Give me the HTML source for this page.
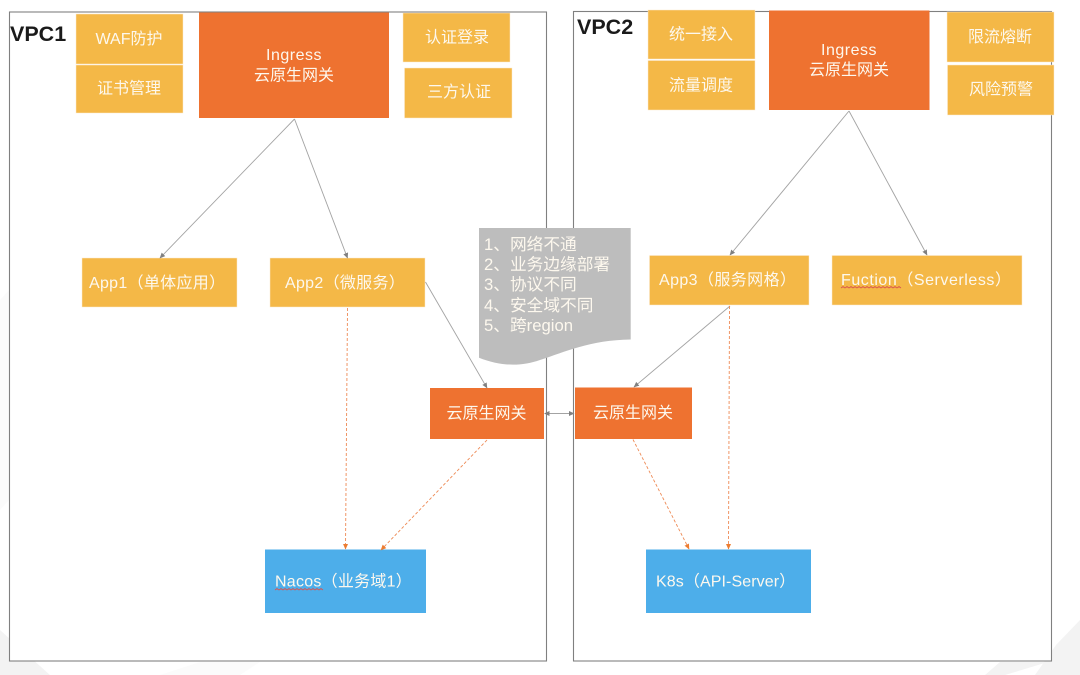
<!DOCTYPE html>
<html><head><meta charset="utf-8">
<style>
html,body{margin:0;padding:0;background:#fff;width:1080px;height:675px;overflow:hidden}
svg{display:block;filter:blur(.3px)}
text{font-family:"Liberation Sans","Noto Sans CJK SC",sans-serif;font-size:16px;fill:#fdf8ee}
.c{text-anchor:middle}
.v{font-weight:bold;font-size:21.500px;fill:#1a1a1a}
.l{stroke:#a3a3a3;stroke-width:.9;fill:none}
.d{stroke:#ee8a55;stroke-width:.9;stroke-dasharray:3 2;fill:none}
.b{stroke:#fbe9cf;stroke-width:.5}
.w{stroke:#d9534f;stroke-width:.8;fill:none}
.t{font-size:16.700px}
</style></head><body>
<svg width="1080" height="675" viewBox="0 0 1080 675" xmlns="http://www.w3.org/2000/svg">
<defs>
<marker id="ag" markerWidth="6" markerHeight="6" refX="5" refY="3" orient="auto" markerUnits="userSpaceOnUse"><path d="M0 0.500L5.500 3L0 5.500z" fill="#808080"/></marker>
<marker id="ags" markerWidth="6" markerHeight="6" refX="1" refY="3" orient="auto" markerUnits="userSpaceOnUse"><path d="M5.500 0.500L0 3L5.500 5.500z" fill="#808080"/></marker>
<marker id="ao" markerWidth="6" markerHeight="6" refX="5" refY="3" orient="auto" markerUnits="userSpaceOnUse"><path d="M0 0.500L5.500 3L0 5.500z" fill="#ed7d31"/></marker>
</defs>
<rect width="1080" height="675" fill="#fff"/>
<path d="M0 630L50 675H0zM1000 662H1048L1005 675H985zM1056 645L1080 620V675H1035z" fill="#f3f3f3"/>
<path d="M160 675L200 662H260L240 675zM0 300L9 290V500L0 510z" fill="#fbfbfb"/>
<rect x="9.500" y="12" width="537" height="649" fill="#fff" stroke="#808080" stroke-width="1.100"/>
<rect x="573.500" y="11.500" width="478" height="649.500" fill="#fff" stroke="#808080" stroke-width="1.100"/>

<text class="v" x="10" y="41">VPC1</text>
<text class="v" x="577" y="34">VPC2</text>

<g fill="#f4b847">
<rect class="b" x="76" y="14" width="107" height="50"/>
<rect class="b" x="76" y="65" width="107" height="48"/>
<rect class="b" x="403" y="13" width="107" height="49"/>
<rect class="b" x="404.500" y="68" width="107.500" height="50"/>
<rect class="b" x="82" y="258" width="155" height="49"/>
<rect class="b" x="270" y="258" width="155" height="49"/>
<rect class="b" x="648" y="10" width="107" height="49"/>
<rect class="b" x="648" y="60.500" width="107" height="49.500"/>
<rect class="b" x="947" y="12" width="107" height="50"/>
<rect class="b" x="947.500" y="65" width="106.500" height="50"/>
<rect class="b" x="649.500" y="255.500" width="159.500" height="49.500"/>
<rect class="b" x="832" y="255.500" width="190" height="49.500"/>
</g>
<g fill="#ee7230">
<rect x="199" y="12.500" width="190" height="105.500"/>
<rect x="769" y="10.500" width="160.500" height="99.500"/>
<rect x="430" y="388" width="114" height="51"/>
<rect x="575" y="387.500" width="117" height="51.500"/>
</g>
<g fill="#4daeea">
<rect x="265" y="549.500" width="161" height="63.500"/>
<rect x="646" y="549.500" width="165" height="63.500"/>
</g>

<path d="M479 228H630.700V339.500C590 340 565 352 540 360C520 367 500 366 479 357.700Z" fill="#bdbdbd"/>

<line class="l" x1="294.500" y1="119" x2="160" y2="258" marker-end="url(#ag)"/>
<line class="l" x1="294.500" y1="119" x2="347.500" y2="258" marker-end="url(#ag)"/>
<line class="l" x1="849" y1="111" x2="730" y2="255" marker-end="url(#ag)"/>
<line class="l" x1="849" y1="111" x2="927" y2="255" marker-end="url(#ag)"/>
<line class="l" x1="425.500" y1="282" x2="487" y2="388" marker-end="url(#ag)"/>
<line class="l" x1="730" y1="306" x2="634" y2="387" marker-end="url(#ag)"/>
<line class="l" x1="545" y1="413.500" x2="574" y2="413.500" marker-start="url(#ags)" marker-end="url(#ag)"/>
<line class="d" x1="347.500" y1="308" x2="345.500" y2="549" marker-end="url(#ao)"/>
<line class="d" x1="487" y1="440" x2="381" y2="550" marker-end="url(#ao)"/>
<line class="d" x1="633" y1="439.500" x2="689" y2="549" marker-end="url(#ao)"/>
<line class="d" x1="729.500" y1="306" x2="728.500" y2="549" marker-end="url(#ao)"/>

<text class="c" x="129" y="44">WAF防护</text>
<text class="c" x="129" y="93.500">证书管理</text>
<text class="c" x="294" y="60" letter-spacing=".5">Ingress</text>
<text class="c" x="294" y="80.500">云原生网关</text>
<text class="c" x="457" y="42.500">认证登录</text>
<text class="c" x="459" y="97">三方认证</text>
<text x="89" y="288" letter-spacing=".3">App1（单体应用）</text>
<text x="285" y="288" letter-spacing=".3">App2（微服务）</text>

<text class="c" x="701" y="39.500">统一接入</text>
<text class="c" x="701" y="90.500">流量调度</text>
<text class="c" x="849" y="55" letter-spacing=".5">Ingress</text>
<text class="c" x="849" y="75">云原生网关</text>
<text class="c" x="1000" y="42">限流熔断</text>
<text class="c" x="1001" y="94.500">风险预警</text>
<text x="659" y="285" letter-spacing=".4">App3（服务网格）</text>
<text x="841" y="285" letter-spacing=".55">Fuction（Serverless）</text>

<text class="c" x="486.500" y="418.500">云原生网关</text>
<text class="c" x="633" y="418">云原生网关</text>

<text class="t" x="484" y="250">1、网络不通</text>
<text class="t" x="484" y="270">2、业务边缘部署</text>
<text class="t" x="484" y="290">3、协议不同</text>
<text class="t" x="484" y="311">4、安全域不同</text>
<text class="t" x="484" y="331">5、跨region</text>

<text x="275" y="586.500" letter-spacing=".25">Nacos（业务域1）</text>
<text x="656" y="586.500" letter-spacing=".1">K8s（API-Server）</text>

<path class="w" d="M841 288l2-1.500 2 1.500 2-1.500 2 1.500 2-1.500 2 1.500 2-1.500 2 1.500 2-1.500 2 1.500 2-1.500 2 1.500 2-1.500 2 1.500 2-1.500 2 1.500 2-1.500 2 1.500 2-1.500 2 1.500 2-1.500 2 1.500 2-1.500 2 1.500 2-1.500 2 1.500 2-1.500 2 1.500 2-1.500 2 1.500"/>
<path class="w" d="M275 590l2-1.500 2 1.500 2-1.500 2 1.500 2-1.500 2 1.500 2-1.500 2 1.500 2-1.500 2 1.500 2-1.500 2 1.500 2-1.500 2 1.500 2-1.500 2 1.500 2-1.500 2 1.500 2-1.500 2 1.500 2-1.500 2 1.500 2-1.500 2 1.500"/>
</svg>
</body></html>
